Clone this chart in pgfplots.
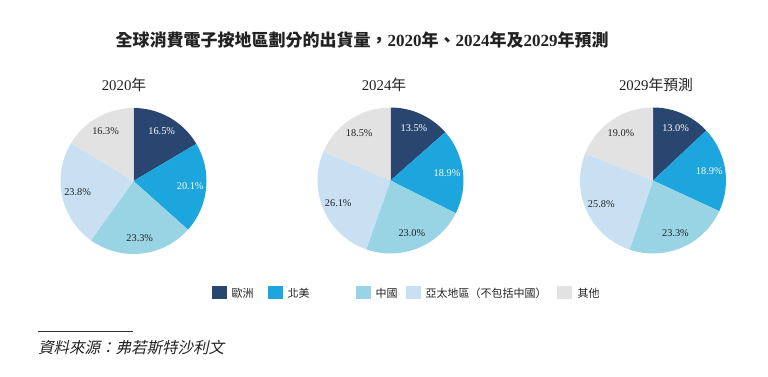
\documentclass[border=0pt]{standalone}
\usepackage{pgfplots}
\pgfplotsset{compat=1.18}
\usepackage{fontspec}
\setmainfont{Liberation Serif}
\newfontfamily\cjk{Noto Sans CJK TC}
\newfontfamily\cjkit[FakeSlant=0.22]{Noto Sans CJK TC}
\definecolor{eu}{HTML}{294670}
\definecolor{na}{HTML}{1DA5DD}
\definecolor{cn}{HTML}{99D4E5}
\definecolor{ap}{HTML}{C9E0F3}
\definecolor{ot}{HTML}{E2E2E2}
\definecolor{txt}{HTML}{222222}
% slice: colour, cx, cy, from (%), to (%), radius
\newcommand\slice[6]{%
  \fill[#1] (axis cs:#2,#3) -- ++({90-3.6*(#4)}:#6pt)
    arc[start angle={90-3.6*(#4)}, end angle={90-3.6*(#5)}, radius=#6pt] -- cycle;}
% label: text colour, cx, cy, mid (%), text
\newcommand\lab[5]{%
  \path (axis cs:#2,#3) ++({90-3.6*(#4)}:57pt)
    node[text=#1, font=\fontsize{10.3}{12}\selectfont, inner sep=0pt] {#5\%};}
% pie: cx, cy, five values
\newcommand\pie[7]{%
  \slice{eu}{#1}{#2}{0}{#3}{73}
  \slice{na}{#1}{#2}{#3}{#3+#4}{73}
  \slice{cn}{#1}{#2}{#3+#4}{#3+#4+#5}{73}
  \slice{ap}{#1}{#2}{#3+#4+#5}{#3+#4+#5+#6}{73}
  \slice{ot}{#1}{#2}{#3+#4+#5+#6}{100}{73}
  \lab{white}{#1}{#2}{#3/2}{#3}
  \lab{white}{#1}{#2}{#3+#4/2}{#4}
  \lab{txt}{#1}{#2}{#3+#4+#5/2}{#5}
  \lab{txt}{#1}{#2}{#3+#4+#5+#6/2}{#6}
  \lab{txt}{#1}{#2}{#3+#4+#5+#6+#7/2}{#7}}
\begin{document}
\begin{tikzpicture}
\begin{axis}[scale only axis, width=768pt, height=377pt,
  xmin=0, xmax=768, ymin=0, ymax=377, hide axis, clip=false]
\path (axis cs:0,0) rectangle (axis cs:768,377);
% title
\node[font=\fontsize{17}{19}\selectfont\bfseries, text=txt] at (axis cs:362,337)
  {{\cjk 全球消費電子按地區劃分的出貨量，}2020{\cjk 年、}2024{\cjk 年及}2029{\cjk 年預測}};
% pie titles
\node[font=\fontsize{14.8}{16}\selectfont, text=txt] at (axis cs:124,292) {2020{\cjk 年}};
\node[font=\fontsize{14.8}{16}\selectfont, text=txt] at (axis cs:384,292) {2024{\cjk 年}};
\node[font=\fontsize{14.8}{16}\selectfont, text=txt] at (axis cs:656,292) {2029{\cjk 年預測}};
% pies: Europe, North America, China, APAC, Others
\pie{133.5}{196}{16.5}{20.1}{23.3}{23.8}{16.3}
\pie{390.5}{196.5}{13.5}{18.9}{23.0}{26.1}{18.5}
\pie{653}{196.5}{13.0}{18.9}{23.3}{25.8}{19.0}
% legend
\fill[eu] (axis cs:212,77.5) rectangle (axis cs:227,90.5);
\node[anchor=west, font=\fontsize{11}{12}\selectfont\cjk, text=txt] at (axis cs:228,84) {歐洲};
\fill[na] (axis cs:268,77.5) rectangle (axis cs:283,90.5);
\node[anchor=west, font=\fontsize{11}{12}\selectfont\cjk, text=txt] at (axis cs:284,84) {北美};
\fill[cn] (axis cs:356,77.5) rectangle (axis cs:371,90.5);
\node[anchor=west, font=\fontsize{11}{12}\selectfont\cjk, text=txt] at (axis cs:372,84) {中國};
\fill[ap] (axis cs:406,77.5) rectangle (axis cs:421,90.5);
\node[anchor=west, font=\fontsize{11}{12}\selectfont\cjk, text=txt] at (axis cs:422,84) {亞太地區（不包括中國）};
\fill[ot] (axis cs:557,77.5) rectangle (axis cs:572,90.5);
\node[anchor=west, font=\fontsize{11}{12}\selectfont\cjk, text=txt] at (axis cs:574,84) {其他};
% source
\draw[line width=0.7pt, black!80] (axis cs:38,46) -- (axis cs:133,46);
\node[anchor=west, font=\fontsize{15.5}{17}\selectfont\cjkit, text=txt, inner sep=0pt] at (axis cs:38,29) {資料來源：弗若斯特沙利文};
\end{axis}
\end{tikzpicture}
\end{document}
